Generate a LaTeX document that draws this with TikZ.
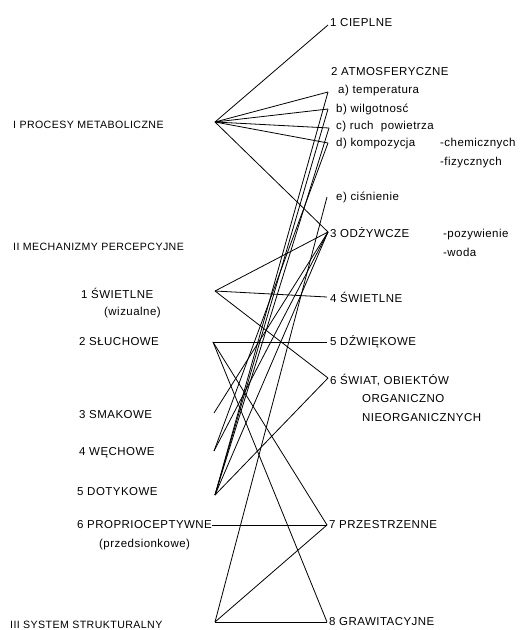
\documentclass[tikz,border=0pt]{standalone}
\usepackage{fontspec}
\setmainfont{Liberation Sans}[LetterSpace=4]
\begin{document}
\begin{tikzpicture}[x=1pt,y=-1pt,
  lbl/.style={anchor=west,inner sep=0pt,font=\fontsize{11.5}{13}\selectfont},
  head/.style={lbl,font=\fontsize{10.6}{12}\selectfont},
  link/.style={line width=0.8pt,black}]
\useasboundingbox[fill=white] (0,0) rectangle (529,630);
% right-hand labels
\node[lbl] (cieplne) at (330,23) {1 CIEPLNE};
\node[lbl] (atmo) at (331,72) {2 ATMOSFERYCZNE};
\node[lbl] (ta) at (338,91) {a) temperatura};
\node[lbl] (tb) at (336,109) {b) wilgotnosć};
\node[lbl] (tc) at (336,127) {c) ruch\ \ powietrza};
\node[lbl] (td) at (336,144) {d) kompozycja};
\node[lbl] (tchem) at (440,144) {-chemicznych};
\node[lbl] (tfiz) at (440,163) {-fizycznych};
\node[lbl] (te) at (336,197) {e) ciśnienie};
\node[lbl] (odz) at (330,233) {3 ODŻYWCZE};
\node[lbl] (poz) at (443,235) {-pozywienie};
\node[lbl] (woda) at (443,252) {-woda};
\node[lbl] (sw4) at (330,297) {4 ŚWIETLNE};
\node[lbl] (dzw) at (330,342) {5 DŹWIĘKOWE};
\node[lbl] (swiat) at (330,380) {6 ŚWIAT, OBIEKTÓW};
\node[lbl] (org) at (362,399) {ORGANICZNO};
\node[lbl] (nieorg) at (362,418) {NIEORGANICZNYCH};
\node[lbl] (prz) at (329,525) {7 PRZESTRZENNE};
\node[lbl] (graw) at (329,622) {8 GRAWITACYJNE};
% left-hand labels
\node[head] (pI) at (13,125) {I PROCESY METABOLICZNE};
\node[head] (pII) at (13,247) {II MECHANIZMY PERCEPCYJNE};
\node[lbl] (s1) at (81,293) {1 ŚWIETLNE};
\node[lbl] (wiz) at (104,313) {(wizualne)};
\node[lbl] (s2) at (79,342) {2 SŁUCHOWE};
\node[lbl] (s3) at (79,415) {3 SMAKOWE};
\node[lbl] (s4) at (79,453) {4 WĘCHOWE};
\node[lbl] (s5) at (77,492) {5 DOTYKOWE};
\node[lbl] (s6) at (77,525) {6 PROPRIOCEPTYWNE};
\node[lbl] (przed) at (99,545) {(przedsionkowe)};
\node[head] (pIII) at (10,625) {III SYSTEM STRUKTURALNY};
% anchor points (left)
\coordinate (LI) at (215,122);
\coordinate (L1) at (215,291);
\coordinate (L2) at (213,342);
\coordinate (L3) at (214,413);
\coordinate (L4) at (214,451);
\coordinate (L5) at (215,495);
\coordinate (L6) at (s6.east);
\coordinate (LIII) at (215,622);
% anchor points (right)
\coordinate (Rc) at (328,25);
\coordinate (Ra) at (328,92);
\coordinate (Rb) at (328,109);
\coordinate (Rcc) at (329,128);
\coordinate (Rd) at (328,143);
\coordinate (Re) at (327,197);
\coordinate (R3) at (328,232);
\coordinate (R4) at (327,297);
\coordinate (R5) at (327,342);
\coordinate (R6) at (328,378);
\coordinate (R7) at (327,525);
\coordinate (R8) at (327,622);
% I  procesy metaboliczne
\draw[link] (LI) -- (Rc);
\draw[link] (LI) -- (Ra);
\draw[link] (LI) -- (Rb);
\draw[link] (LI) -- (Rcc);
\draw[link] (LI) -- (Rd);
\draw[link] (LI) -- (R3);
% 1 swietlne
\draw[link] (L1) -- (R3);
\draw[link] (L1) -- (R4);
\draw[link] (L1) -- (R6);
% 2 sluchowe
\draw[link] (L2) -- (R5);
\draw[link] (L2) -- (R7);
\draw[link] (L2) -- (R8);
% 3 smakowe
\draw[link] (L3) -- (R3);
% 4 wechowe
\draw[link] (L4) -- (R3);
\draw[link] (L4) -- (Rd);
% 5 dotykowe
\draw[link] (L5) -- (Ra);
\draw[link] (L5) -- (Rb);
\draw[link] (L5) -- (Rcc);
\draw[link] (L5) -- (R3);
\draw[link] (L5) -- (R6);
% 6 proprioceptywne
\draw[link] (L6) -- (R7);
% III system strukturalny
\draw[link] (LIII) -- (Re);
\draw[link] (LIII) -- (R7);
\draw[link] (LIII) -- (R8);
\end{tikzpicture}
\end{document}
